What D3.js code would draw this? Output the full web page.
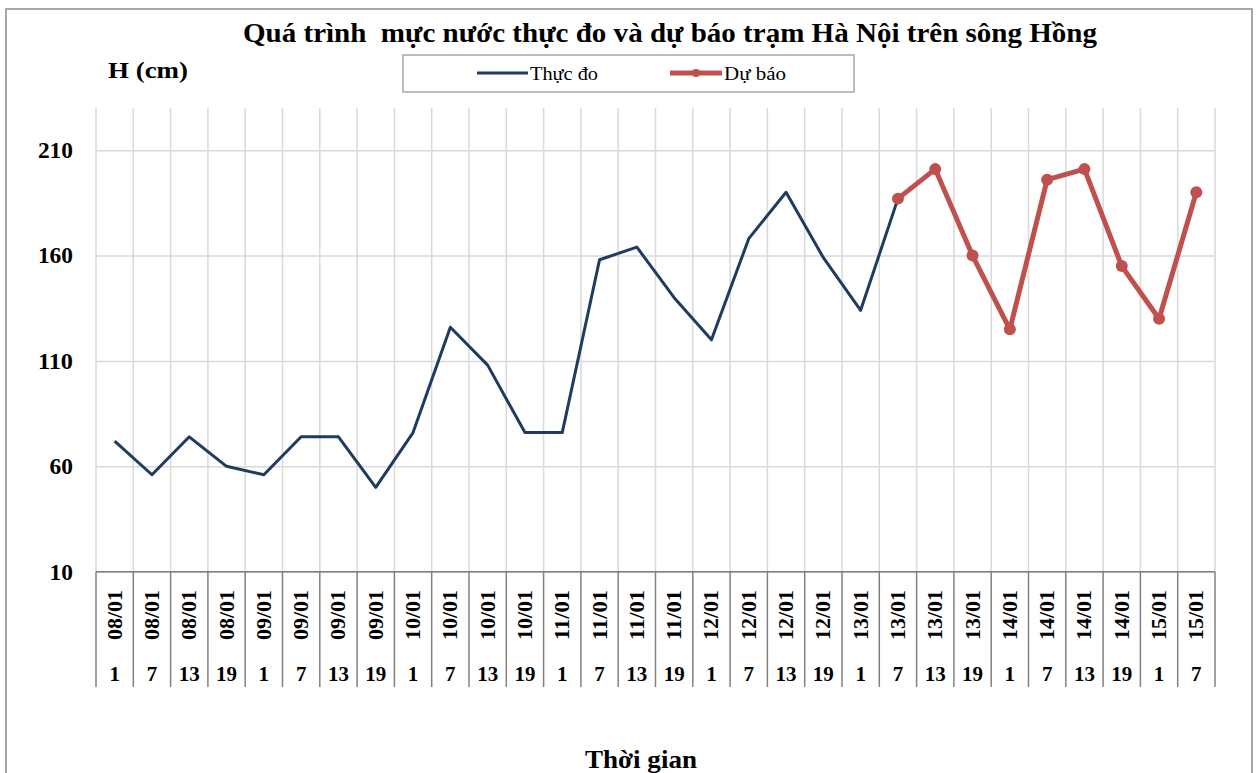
<!DOCTYPE html>
<html>
<head>
<meta charset="utf-8">
<script src="https://cdn.jsdelivr.net/npm/d3@7"></script>
<style>
  body { margin: 0; background: #fff; }
  text { font-family: "Liberation Serif", "Times New Roman", serif; fill: #000; }
</style>
</head>
<body>
<div id="chart"></div>
<script>
// categories: date (rotated) and hour (second row)
var dates = ['08/01','08/01','08/01','08/01','09/01','09/01','09/01','09/01',
             '10/01','10/01','10/01','10/01','11/01','11/01','11/01','11/01',
             '12/01','12/01','12/01','12/01','13/01','13/01','13/01','13/01',
             '14/01','14/01','14/01','14/01','15/01','15/01']
var hours = ['1','7','13','19','1','7','13','19','1','7','13','19','1','7','13','19',
             '1','7','13','19','1','7','13','19','1','7','13','19','1','7']
// Thực đo: index 0..21
var observed = [72,56,74,60,56,74,74,50,76,126,108,76,76,158,164,140,120,168,190,159,134,187]
// Dự báo: index 21..29
var forecastStart = 21
var forecast = [187,201,160,125,196,201,155,130,190]
var yTicks = [10,60,110,160,210]

var W = 1257, H = 773
var plot = { left: 96, right: 1215, top: 108, bottom: 571.7 }

var svg = d3.select('#chart').append('svg')
    .attr('width', W)
    .attr('height', H)

// outer frame
svg.append('rect')
    .attr('x', 6).attr('y', 9)
    .attr('width', 1246).attr('height', 800)
    .attr('fill', '#fff')
    .attr('stroke', '#8c8c8c')
    .attr('stroke-width', 1.5)

var x = d3.scaleBand()
    .domain(d3.range(dates.length))
    .range([plot.left, plot.right])
var y = d3.scaleLinear()
    .domain([10, 230])
    .range([plot.bottom, plot.top])

// vertical gridlines on category boundaries
var bounds = d3.range(dates.length + 1).map(function(i) {
    return i < dates.length ? x(i) : plot.right
})
svg.append('g').selectAll('line')
    .data(bounds)
    .join('line')
    .attr('x1', function(d) { return d }).attr('x2', function(d) { return d })
    .attr('y1', plot.top).attr('y2', plot.bottom)
    .attr('stroke', '#d9d9d9')
    .attr('stroke-width', 1.5)

// y axis with horizontal gridlines
var yAxis = svg.append('g')
    .attr('transform', 'translate(' + plot.left + ',0)')
    .call(d3.axisLeft(y).tickValues(yTicks).tickSize(-(plot.right - plot.left)).tickPadding(23))
yAxis.select('.domain').remove()
yAxis.selectAll('.tick line')
    .attr('stroke', '#d9d9d9')
    .attr('stroke-width', 1.5)
yAxis.selectAll('.tick text')
    .attr('font-family', '"Liberation Serif", serif')
    .attr('font-size', 23)
    .attr('font-weight', 'bold')
    .attr('fill', '#000')
    .attr('textLength', function(d) { return String(d).length * 11.7 })
    .attr('lengthAdjust', 'spacingAndGlyphs')

// category axis
svg.append('line')
    .attr('x1', plot.left).attr('x2', plot.right)
    .attr('y1', plot.bottom).attr('y2', plot.bottom)
    .attr('stroke', '#808080')
    .attr('stroke-width', 1.5)
svg.append('g').selectAll('line')
    .data(bounds)
    .join('line')
    .attr('x1', function(d) { return d }).attr('x2', function(d) { return d })
    .attr('y1', plot.bottom).attr('y2', 687)
    .attr('stroke', '#808080')
    .attr('stroke-width', 1.5)

var cx = function(i) { return x(i) + x.bandwidth() / 2 }

svg.append('g').selectAll('text')
    .data(dates)
    .join('text')
    .attr('transform', function(d, i) { return 'translate(' + (cx(i) + 7) + ',615) rotate(-90)' })
    .attr('text-anchor', 'middle')
    .attr('font-size', 21)
    .attr('font-weight', 'bold')
    .attr('textLength', 50)
    .attr('lengthAdjust', 'spacingAndGlyphs')
    .text(function(d) { return d })

svg.append('g').selectAll('text')
    .data(hours)
    .join('text')
    .attr('x', function(d, i) { return cx(i) })
    .attr('y', 681)
    .attr('text-anchor', 'middle')
    .attr('font-size', 22)
    .attr('font-weight', 'bold')
    .attr('textLength', function(d) { return d.length * 10.5 })
    .attr('lengthAdjust', 'spacingAndGlyphs')
    .text(function(d) { return d })

// series
var line = d3.line()
    .x(function(d) { return cx(d.i) })
    .y(function(d) { return y(d.v) })

var obsData = observed.map(function(v, i) { return { i: i, v: v } })
var fcData = forecast.map(function(v, i) { return { i: i + forecastStart, v: v } })

svg.append('path')
    .datum(obsData)
    .attr('d', line)
    .attr('fill', 'none')
    .attr('stroke', '#1f3b60')
    .attr('stroke-width', 3)
    .attr('stroke-linejoin', 'round')

svg.append('path')
    .datum(fcData)
    .attr('d', line)
    .attr('fill', 'none')
    .attr('stroke', '#c0504d')
    .attr('stroke-width', 5)
    .attr('stroke-linejoin', 'round')

svg.append('g').selectAll('circle')
    .data(fcData)
    .join('circle')
    .attr('cx', function(d) { return cx(d.i) })
    .attr('cy', function(d) { return y(d.v) })
    .attr('r', 6)
    .attr('fill', '#c0504d')

// titles
svg.append('text')
    .attr('x', 670).attr('y', 42)
    .attr('text-anchor', 'middle')
    .attr('font-size', 27)
    .attr('font-weight', 'bold')
    .attr('textLength', 854)
    .attr('lengthAdjust', 'spacingAndGlyphs')
    .style('white-space', 'pre')
    .text('Quá trình  mực nước thực đo và dự báo trạm Hà Nội trên sông Hồng')

svg.append('text')
    .attr('x', 108).attr('y', 78)
    .attr('font-size', 24)
    .attr('font-weight', 'bold')
    .attr('textLength', 80)
    .attr('lengthAdjust', 'spacingAndGlyphs')
    .text('H (cm)')

svg.append('text')
    .attr('x', 641).attr('y', 768)
    .attr('text-anchor', 'middle')
    .attr('font-size', 26)
    .attr('font-weight', 'bold')
    .attr('textLength', 112)
    .attr('lengthAdjust', 'spacingAndGlyphs')
    .text('Thời gian')

// legend
var legend = svg.append('g')
legend.append('rect')
    .attr('x', 403).attr('y', 55)
    .attr('width', 451).attr('height', 37)
    .attr('fill', '#fff')
    .attr('stroke', '#a6a6a6')
    .attr('stroke-width', 1.5)
legend.append('line')
    .attr('x1', 477).attr('x2', 528).attr('y1', 73).attr('y2', 73)
    .attr('stroke', '#1f3b60').attr('stroke-width', 3)
legend.append('text')
    .attr('x', 530).attr('y', 80)
    .attr('font-size', 19)
    .attr('textLength', 68)
    .attr('lengthAdjust', 'spacingAndGlyphs')
    .text('Thực đo')
legend.append('line')
    .attr('x1', 670).attr('x2', 722).attr('y1', 73).attr('y2', 73)
    .attr('stroke', '#c0504d').attr('stroke-width', 5)
legend.append('circle')
    .attr('cx', 696).attr('cy', 73).attr('r', 4)
    .attr('fill', '#c0504d')
legend.append('text')
    .attr('x', 724).attr('y', 80)
    .attr('font-size', 19)
    .attr('textLength', 62)
    .attr('lengthAdjust', 'spacingAndGlyphs')
    .text('Dự báo')
</script>
</body>
</html>
